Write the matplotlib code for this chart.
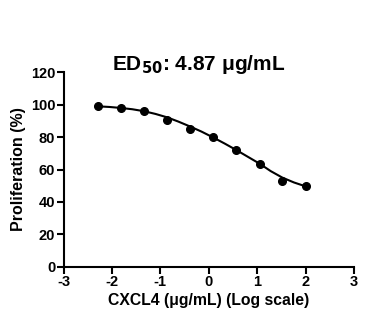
import matplotlib
matplotlib.use("Agg")
import matplotlib.pyplot as plt

plt.rcParams['font.family'] = ['Liberation Sans', 'DejaVu Sans']
plt.rcParams['font.weight'] = 'bold'

# Data points (log10 concentration, proliferation %)
log_conc = [-2.29, -1.82, -1.34, -0.86, -0.39, 0.09, 0.57, 1.05, 1.52, 2.00]
prolif = [99.3, 98.2, 96.2, 90.3, 85.2, 80.3, 72.3, 63.2, 52.6, 50.0]

# Fitted curve
curve_x = [-2.29, -2.05, -1.82, -1.58, -1.34, -1.10, -0.86, -0.63, -0.39, -0.15,
           0.09, 0.33, 0.57, 0.81, 1.05, 1.28, 1.52, 1.76, 2.00]
curve_y = [99.0, 98.6, 98.0, 97.2, 96.0, 94.3, 92.2, 89.6, 86.6, 83.4,
           79.8, 76.0, 72.0, 67.8, 63.6, 59.0, 55.0, 52.0, 49.6]

x_ticks = [-3, -2, -1, 0, 1, 2, 3]
y_ticks = [0, 20, 40, 60, 80, 100, 120]

fig = plt.figure(figsize=(3.92, 3.24), dpi=100)
ax = fig.add_axes([63.5/392, 57.3/324, (354-63.5)/392, (266.7-72.3)/324])

ax.plot(curve_x, curve_y, color='black', lw=1.5, solid_capstyle='round')
ax.plot(log_conc, prolif, 'o', color='black', ms=5.5)

ax.set_xlim(-3, 3)
ax.set_ylim(0, 120)
ax.set_xticks(x_ticks)
ax.set_yticks(y_ticks)
ax.set_xticklabels([str(t) for t in x_ticks], fontsize=10.5, fontweight='bold')
ax.set_yticklabels([str(t) for t in y_ticks], fontsize=10.5, fontweight='bold')
for s in ['top', 'right']:
    ax.spines[s].set_visible(False)
for s in ['left', 'bottom']:
    ax.spines[s].set_linewidth(1.5)
ax.tick_params(direction='out', length=5, width=1.5, pad=1)

ax.set_xlabel('CXCL4 (μg/mL) (Log scale)', fontsize=11.3, fontweight='bold', labelpad=3)
ax.set_ylabel('Proliferation (%)', fontsize=11.5, fontweight='bold', labelpad=3)

fig.text(199/392, 1 - 64/324, 'ED$_{\\mathbf{50}}$: 4.87 μg/mL', ha='center', va='center',
         fontsize=15, fontweight='bold')

fig.savefig('out.png', dpi=100)
